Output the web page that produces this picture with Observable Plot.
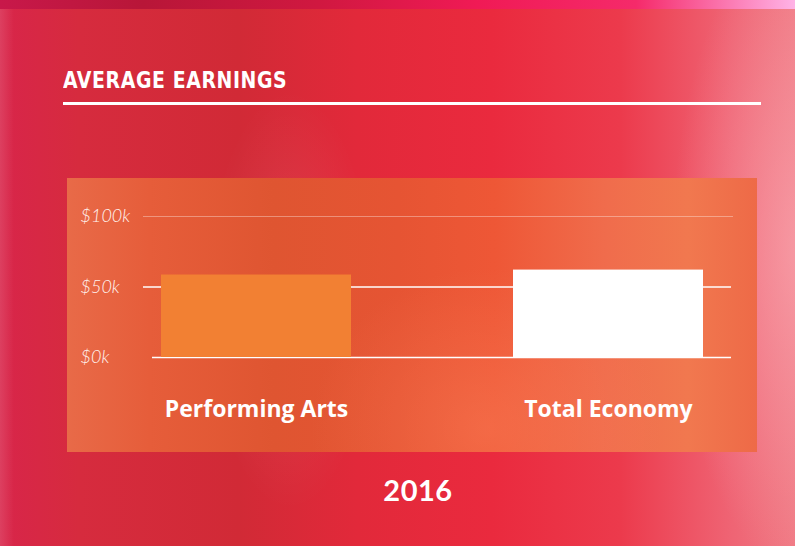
<!DOCTYPE html>
<html>
<head>
<meta charset="utf-8">
<script src="https://cdn.jsdelivr.net/npm/d3@7"></script>
<script src="https://cdn.jsdelivr.net/npm/@observablehq/plot@0.6"></script>
<style>
  html, body { margin: 0; padding: 0; }
  #page {
    position: relative; width: 795px; height: 546px; overflow: hidden;
    background:
      linear-gradient(90deg, rgba(255,255,255,0.12) 0px, rgba(255,255,255,0) 14px),
      radial-gradient(ellipse 120px 300px at 290px 300px, rgba(255,255,255,0.10), rgba(255,255,255,0) 70%),
      radial-gradient(ellipse 160px 400px at 800px 250px, rgba(255,190,200,0.45), rgba(255,190,200,0) 80%),
      linear-gradient(90deg, #d8254a 0%, #d62b3e 10%, #d12a36 30%, #e2293a 45%, #ea2a3e 62%, #ec3a4c 78%, #ef6474 92%, #f07a84 100%);
  }
  #topband {
    position: absolute; left: 0; top: 0; width: 795px; height: 9px;
    background: linear-gradient(90deg, #c8184a 0%, #b81638 18%, #d01840 40%, #f01a55 60%, #f52a6a 80%, #ffb3e6 100%);
  }
  #title {
    position: absolute; left: 63px; top: 67px;
    font-family: "DejaVu Sans Condensed", "DejaVu Sans", sans-serif; font-weight: bold;
    font-size: 21px; color: #fff; letter-spacing: 0.6px;
    transform: scaleY(1.08); transform-origin: left top;
  }
  #rule {
    position: absolute; left: 63px; top: 102px; width: 698px; height: 3px; background: #fff;
  }
  #panel {
    position: absolute; left: 67px; top: 178px; width: 690px; height: 274px;
    background:
      radial-gradient(ellipse 220px 200px at 420px 250px, rgba(255,140,100,0.35), rgba(255,140,100,0) 80%),
      linear-gradient(90deg, #e86a48 0%, #e65d3a 12%, #df5531 30%, #e65433 48%, #ee5736 62%, #f06c4c 78%, #f1784f 90%, #ee6a47 100%);
  }
  #year {
    position: absolute; left: 0; width: 836px; top: 472px; text-align: center;
    font-family: "Lato", "Open Sans", sans-serif; font-weight: bold; font-size: 29px; color: #fff;
    letter-spacing: 0.5px;
  }
</style>
</head>
<body>
<div id="page">
  <div id="topband"></div>
  <div id="title">AVERAGE EARNINGS</div>
  <div id="rule"></div>
  <div id="panel"></div>
  <div id="year">2016</div>
</div>
<script>
const categories = ["Performing Arts", "Total Economy"];
const earnings = [58.5, 62]; // thousands of dollars
const yTicks = [0, 50, 100];
const barColors = ["#f28033", "#ffffff"];

const data = categories.map((c, i) => ({category: c, value: earnings[i], color: barColors[i]}));

const chart = Plot.plot({
  width: 690,
  height: 274,
  marginLeft: 76,
  marginRight: 24,
  marginTop: 38,
  marginBottom: 95,
  style: {background: "transparent", overflow: "visible"},
  x: {domain: categories, paddingInner: 0.46, paddingOuter: 0.068, align: 0.37, label: null},
  y: {domain: [0, 100], label: null},
  marks: [
    Plot.ruleY([100], {stroke: "#fff", strokeOpacity: 0.35, strokeWidth: 1.2}),
    Plot.ruleY([50], {stroke: "#fff", strokeWidth: 1.6, insetRight: 2}),
    Plot.ruleY([0], {stroke: "#fff", strokeWidth: 1.6, insetLeft: 9, insetRight: 2}),
    Plot.barY(data, {x: "category", y: "value", fill: "color"}),
    Plot.axisY({
      ticks: yTicks, tickSize: 0, tickPadding: 0, textAnchor: "start", dx: -63,
      tickFormat: d => `$${d}k`, fill: "#fff3ef", fontSize: 18,
      fontStyle: "italic", fontWeight: 300, fontFamily: "Lato, 'Open Sans', sans-serif", label: null
    }),
    Plot.axisX({
      tickSize: 0, tickPadding: 43, fill: "#fff", fontSize: 23, fontWeight: "bold",
      fontFamily: "'Open Sans', Lato, sans-serif", label: null
    })
  ]
});
chart.style.position = "absolute";
chart.style.left = "0px";
chart.style.top = "0px";
document.getElementById("panel").appendChild(chart);
</script>
</body>
</html>
